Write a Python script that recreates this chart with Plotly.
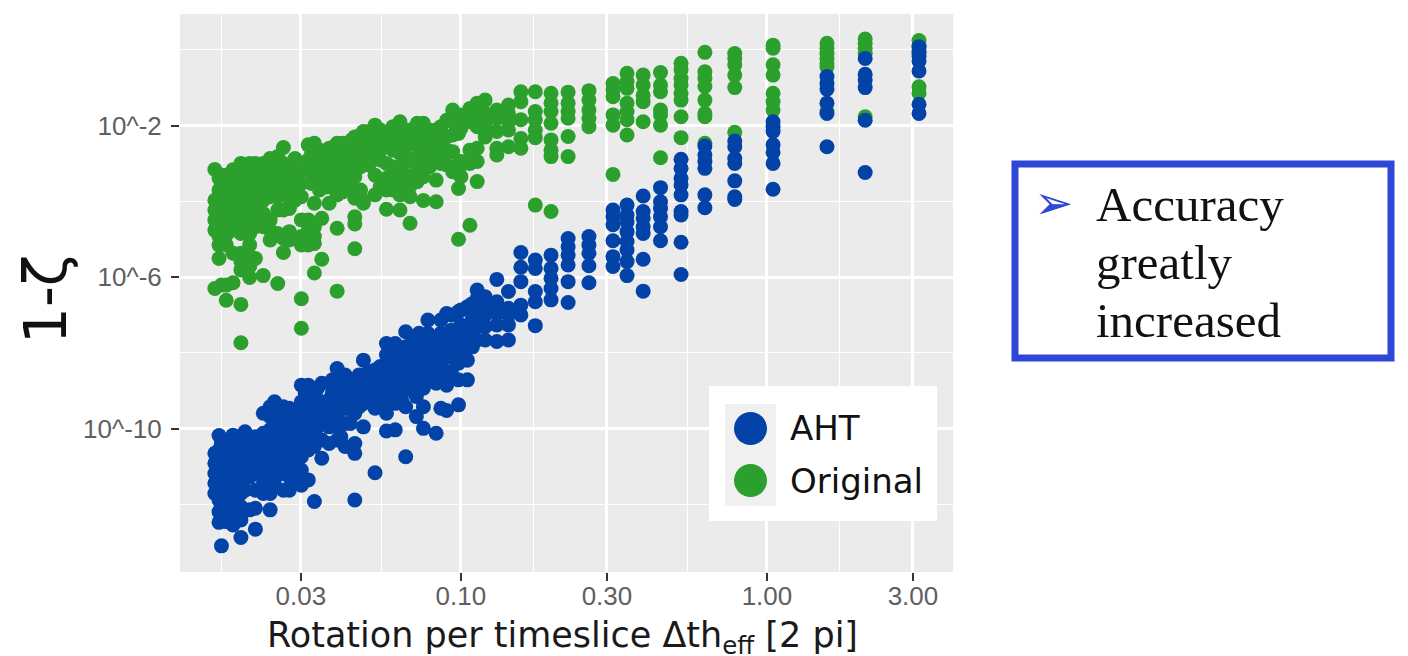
import plotly.graph_objects as go

# Rotation per timeslice (one entry per column of points)
original_x = [0.0157,0.0162,0.0165,0.0171,0.0180,0.0191,0.0204,0.0213,0.0226,0.0238,0.0252,0.0263,0.0275,0.0287,
              0.0301,0.0317,0.0332,0.0351,0.0371,0.0394,0.0418,0.0450,0.0480,0.0524,0.0571,0.0632,0.0682,0.0754,
              0.0830,0.0898,0.0940,0.0982,0.1000,0.1070,0.1130,0.1200,0.1310,0.1430,0.157,0.175,0.197,0.224,0.262,
              0.314,0.349,0.394,0.449,0.524,0.627,0.785,1.047,1.571,2.094,3.14,
              0.0325,0.0345,0.0365,0.0385,0.0410,0.0440,0.0470,0.0500,0.0545,0.0600,0.0650,0.0720,0.0790,0.0860]
# log10(1-zeta) values per column
original_exp = [
 [-3.16,-3.97,-4.23,-4.49,-4.76,-6.30],
 [-3.39,-3.70,-4.01,-4.32,-4.63,-4.93,-5.15,-5.51],
 [-3.31,-3.61,-3.92,-4.23,-4.54,-4.85,-6.21],
 [-3.31,-3.57,-3.83,-4.10,-4.36,-4.63,-4.89,-5.15,-6.21,-6.61],
 [-3.17,-3.44,-3.70,-3.97,-4.23,-4.49,-4.76,-5.37,-6.15],
 [-3.00,-3.26,-3.53,-3.79,-4.05,-4.32,-4.58,-4.85,-5.37,-5.59,-5.81,-6.72,-7.73],
 [-3.00,-3.17,-3.44,-3.70,-3.97,-4.23,-4.49,-4.85,-5.15,-5.46,-5.72,-6.01],
 [-3.00,-3.26,-3.53,-3.79,-4.05,-4.41,-4.67,-5.51],
 [-3.00,-3.17,-3.44,-3.70,-3.97,-4.32,-4.67,-5.96],
 [-2.87,-3.09,-3.35,-3.61,-3.88,-4.49,-4.76,-5.02],
 [-2.82,-3.09,-3.35,-3.61,-3.88,-4.23,-4.85,-6.17],
 [-2.58,-3.00,-3.26,-3.53,-3.79,-4.23,-4.98,-5.35],
 [-3.09,-3.35,-3.61,-3.92,-4.19,-4.80,-5.02],
 [-2.87,-3.17,-3.44,-3.70,-3.97],
 [-3.17,-3.53,-3.88,-4.49,-4.93,-5.15,-6.57,-7.35],
 [-2.51,-2.91,-3.17,-4.49,-4.76,-5.02,-5.15],
 [-2.47,-2.73,-3.00,-4.05,-4.67,-4.93,-5.11,-5.89],
 [-2.73,-3.00,-3.53,-4.45,-5.53],
 [-2.60,-2.91,-3.26,-4.05],
 [-2.47,-2.73,-3.04,-3.35,-3.61,-3.83,-4.71,-6.37],
 [-2.51,-2.82,-3.17,-3.48],
 [-2.30,-2.65,-3.00,-3.35,-3.70,-3.92,-4.41,-4.60,-5.25],
 [-2.16,-2.47,-2.82,-3.97,-4.05],
 [-1.99,-2.38,-2.73,-3.31,-3.83],
 [-2.21,-2.56,-3.00,-3.39,-3.70,-4.21],
 [-1.90,-2.30,-2.73,-3.17,-3.53,-3.83,-4.23],
 [-2.12,-2.47,-2.91,-3.35,-3.61,-3.88,-4.58],
 [-1.94,-2.38,-2.73,-3.00,-3.35,-3.98],
 [-2.12,-2.47,-2.82,-3.44,-4.01],
 [-1.86,-2.30,-2.65,-3.04],
 [-1.59,-1.90,-2.25,-2.69,-3.22],
 [-2.21,-3.00,-3.17,-3.66,-5.00],
 [-1.72,-2.07,-2.95,-3.35],
 [-1.55,-1.90,-2.65,-3.00,-4.63],
 [-1.41,-1.72,-2.03,-2.60,-2.95,-3.48],
 [-1.33,-1.68,-1.99,-2.30],
 [-1.59,-1.81,-2.16,-2.60,-2.78],
 [-1.46,-1.68,-1.90,-2.12,-2.56],
 [-1.11,-1.37,-1.85,-2.34,-2.60],
 [-1.11,-1.63,-1.85,-2.12,-2.32,-4.10],
 [-1.15,-1.41,-1.63,-1.94,-2.38,-2.65,-2.82,-4.27],
 [-1.12,-1.41,-1.63,-1.81,-2.29,-2.82],
 [-1.08,-1.33,-1.59,-1.81,-2.03],
 [-0.89,-1.06,-1.24,-1.72,-1.99,-3.29],
 [-0.62,-0.84,-1.02,-1.41,-1.63,-1.85,-2.25],
 [-0.67,-0.93,-1.20,-1.37,-1.90],
 [-0.60,-0.93,-1.11,-1.59,-1.72,-1.99,-2.85],
 [-0.36,-0.53,-0.76,-0.93,-1.15,-1.33,-1.77,-2.32],
 [-0.07,-0.58,-0.76,-0.97,-1.33,-1.68,-1.77,-2.47],
 [-0.10,-0.23,-0.40,-0.67,-1.00,-2.18],
 [0.12,0.04,-0.40,-0.67,-1.15,-1.37,-1.59],
 [0.17,0.04,-0.10,-0.23,-0.36,-0.45,-1.63],
 [0.28,0.17,0.04,-0.10,-1.77],
 [0.24,0.08,-0.10,-0.98,-1.15],
 [-2.73,-3.00,-3.26,-3.53],
 [-2.65,-2.91,-3.17,-3.44,-3.70],
 [-2.65,-2.82,-3.09,-3.35,-3.62],
 [-2.56,-2.82,-3.09,-3.44],
 [-2.47,-2.73,-3.00,-3.26,-3.53,-3.75],
 [-2.38,-2.56,-2.82,-3.00,-3.17,-3.66],
 [-2.25,-2.47,-2.65,-2.91,-3.09,-3.70],
 [-2.16,-2.38,-2.60,-2.82,-3.04],
 [-2.12,-2.30,-2.47,-2.65,-2.91,-3.61],
 [-2.03,-2.21,-2.47,-2.65,-3.09,-3.44,-3.70],
 [-2.12,-2.47,-2.65,-3.00,-3.26,-3.61],
 [-1.94,-2.21,-2.56,-2.82,-3.17,-3.48],
 [-2.12,-2.38,-2.73,-2.91,-3.09],
 [-2.03,-2.47,-2.60,-2.82,-3.00],
]

aht_x = [0.0157,0.0162,0.0165,0.0171,0.0180,0.0191,0.0197,0.0204,0.0213,0.0226,0.0238,0.0246,0.0263,0.0275,0.0287,
         0.0301,0.0317,0.0332,0.0351,0.0371,0.0394,0.0418,0.0450,0.0480,0.0524,0.0571,0.0610,0.0660,0.0715,0.0754,
         0.0780,0.0830,0.0898,0.0982,0.1050,0.1130,0.1200,0.1310,0.1430,0.157,0.175,0.197,0.224,0.262,
         0.314,0.349,0.394,0.449,0.524,0.627,0.785,1.047,1.571,2.094,3.14,
         0.0310,0.0340,0.0380,0.0405,0.0435,0.0465,0.0500,0.0545,0.0590,0.0640,0.0690,0.0730,
         0.0810,0.0860,0.0930,0.1000,0.1090]
aht_exp = [
 [-10.65,-10.91,-11.18,-11.44,-11.71],
 [-10.18,-10.56,-10.83,-11.09,-11.35,-11.62,-11.88,-12.19,-12.47],
 [-10.39,-10.74,-11.00,-11.27,-11.53,-11.79,-12.06,-13.09],
 [-10.47,-10.83,-11.09,-11.35,-11.62,-11.88,-12.23,-12.45],
 [-10.17,-10.47,-10.74,-11.00,-11.27,-11.53,-11.88,-12.23,-12.54],
 [-10.30,-10.56,-10.83,-11.09,-11.35,-11.71,-12.06,-12.41,-12.87],
 [-10.08,-10.39,-10.74,-11.09,-11.62],
 [-10.30,-10.56,-10.91,-11.27,-12.14],
 [-10.21,-10.47,-10.83,-11.18,-11.62,-12.10,-12.65],
 [-9.59,-10.12,-10.39,-10.74,-11.09,-11.44,-11.71],
 [-9.42,-9.68,-10.03,-10.39,-10.74,-11.09,-11.53,-11.71,-12.14],
 [-9.29,-9.64,-9.95,-10.30,-10.65,-11.00,-11.35],
 [-9.42,-9.77,-10.12,-10.47,-10.83,-11.18,-11.62],
 [-9.46,-9.86,-10.21,-10.56,-10.91,-11.27,-11.62],
 [-9.59,-9.95,-10.30,-10.65,-11.00,-11.27,-11.44],
 [-8.85,-9.29,-9.68,-10.03,-10.39,-10.74,-11.09,-11.49],
 [-8.85,-9.33,-9.68,-10.12,-10.56,-11.35],
 [-9.15,-9.68,-10.12,-10.47,-11.92],
 [-8.80,-9.33,-9.86,-10.30,-10.78],
 [-8.80,-9.24,-9.59,-9.95,-10.39],
 [-8.41,-8.89,-9.24,-9.59,-9.95,-10.30],
 [-8.58,-8.98,-9.33,-9.86,-10.47],
 [-8.71,-9.07,-9.42,-9.59,-10.39,-10.65,-11.88],
 [-8.19,-8.63,-8.98,-9.33,-9.95],
 [-8.45,-8.80,-9.15,-9.46,-11.16],
 [-7.75,-8.05,-8.45,-8.80,-9.24,-9.59,-10.06],
 [-7.75,-8.10,-8.49,-8.89,-9.33,-10.03],
 [-7.44,-7.84,-8.19,-8.54,-8.89,-9.42,-10.74],
 [-7.57,-7.92,-8.36,-8.71,-9.15,-9.68],
 [-7.75,-8.10,-8.49,-8.93,-9.42,-9.99],
 [-7.13,-7.48,-7.92,-8.27,-8.63],
 [-7.75,-8.10,-8.49,-8.80,-10.12],
 [-6.96,-7.57,-8.10,-8.49,-8.85,-9.52],
 [-6.91,-7.40,-7.92,-8.27,-8.71,-9.37],
 [-6.78,-7.40,-7.84,-8.19,-8.71],
 [-6.34,-6.56,-6.78,-7.00,-7.31,-7.66],
 [-6.52,-6.74,-7.00,-7.31,-7.66],
 [-6.06,-6.65,-6.96,-7.26,-7.70],
 [-6.38,-6.82,-7.00,-7.26,-7.66],
 [-5.35,-5.74,-6.12,-6.74,-7.00],
 [-5.55,-5.77,-6.38,-6.65,-7.28],
 [-5.42,-5.77,-6.03,-6.30,-6.60],
 [-4.98,-5.20,-5.42,-5.68,-6.12,-6.67],
 [-4.93,-5.15,-5.37,-5.70,-6.15],
 [-4.23,-4.41,-4.62,-5.04,-5.46,-5.72],
 [-4.10,-4.36,-4.54,-4.80,-5.06,-5.28,-5.59,-5.96],
 [-3.86,-4.27,-4.45,-4.67,-4.85,-5.53,-6.37],
 [-3.64,-4.01,-4.19,-4.41,-4.67,-5.04],
 [-2.89,-3.13,-3.39,-3.57,-3.83,-4.27,-4.36,-5.08,-5.93],
 [-2.54,-2.78,-2.95,-3.13,-3.83,-4.17],
 [-2.41,-2.56,-2.87,-3.00,-3.46,-3.88,-3.95],
 [-1.90,-2.03,-2.16,-2.51,-2.71,-3.00,-3.68],
 [-0.71,-0.89,-1.04,-1.41,-1.68,-2.56],
 [-0.23,-0.65,-0.80,-1.00,-1.86,-3.24],
 [0.08,-0.05,-0.18,-0.30,-0.56,-1.44,-1.68],
 [-9.07,-9.46,-9.86,-10.21,-10.56],
 [-8.93,-9.24,-9.59,-9.95,-10.30],
 [-8.71,-9.07,-9.42,-9.77],
 [-8.63,-8.98,-9.24,-9.50,-9.86,-10.21],
 [-8.75,-9.15,-9.50,-9.86],
 [-8.58,-8.89,-9.24,-9.42],
 [-8.49,-8.71,-8.98,-9.24],
 [-8.36,-8.63,-8.98,-9.24],
 [-8.10,-8.36,-8.63,-8.98,-9.24],
 [-7.92,-8.27,-8.63,-8.98,-9.24],
 [-7.75,-8.05,-8.36,-8.71,-8.98],
 [-7.48,-7.92,-8.19,-8.54],
 [-7.66,-8.00,-8.36,-8.63],
 [-7.13,-7.48,-7.84,-8.19,-8.54,-9.46],
 [-7.00,-7.40,-7.75,-8.10,-8.49],
 [-6.87,-7.26,-7.66,-8.05],
 [-6.70,-7.10,-7.48,-7.84],
]

x_tick_values = [0.03, 0.1, 0.3, 1, 3]
x_tick_labels = ["0.03", "0.10", "0.30", "1.00", "3.00"]
x_minor_values = [0.01656, 0.0552, 0.173, 0.548, 1.73]
y_tick_values = [1e-2, 1e-6, 1e-10]
y_tick_labels = ["10^-2", "10^-6", "10^-10"]
y_minor_values = [1, 1e-4, 1e-8, 1e-12]
series_names = ["AHT", "Original"]
box_lines = ["Accuracy", "greatly", "increased"]

BLUE = "#0343a8"
GREEN = "#2ca02c"
W, H = 1408, 656
L, R, T, B = 180, 953, 14, 572


def flatten(xs, nested):
    px, py = [], []
    for x, col in zip(xs, nested):
        for e in col:
            px.append(x)
            py.append(10 ** e)
    return px, py


fig = go.Figure()
for name, xs, nested, color in [("Original", original_x, original_exp, GREEN),
                                ("AHT", aht_x, aht_exp, BLUE)]:
    px, py = flatten(xs, nested)
    fig.add_trace(go.Scatter(x=px, y=py, mode="markers", name=name, showlegend=False,
                             marker=dict(size=15, color=color, line=dict(width=0))))

tick_font = dict(family="Liberation Sans, Arial, sans-serif", size=26, color="#5f5f5f")
fig.update_xaxes(type="log", range=[-1.918, 0.608], tickmode="array", tickvals=x_tick_values,
                 ticktext=x_tick_labels, tickfont=tick_font, ticks="outside", ticklen=8, tickwidth=2,
                 tickcolor="#333333", showgrid=True, gridcolor="white", gridwidth=2.5, zeroline=False,
                 showline=False, ticklabelstandoff=-7,
                 minor=dict(tickmode="array", tickvals=x_minor_values, showgrid=True,
                            gridcolor="white", gridwidth=1.3, ticks=""))
fig.update_yaxes(type="log", range=[-13.78, 0.942], tickmode="array", tickvals=y_tick_values,
                 ticktext=y_tick_labels, tickfont=tick_font, ticks="outside", ticklen=8, tickwidth=2,
                 tickcolor="#333333", showgrid=True, gridcolor="white", gridwidth=2.5, zeroline=False,
                 ticklabelstandoff=4,
                 showline=False, minor=dict(tickmode="array", tickvals=y_minor_values, showgrid=True,
                                            gridcolor="white", gridwidth=1.3, ticks=""))


def X(p):
    return (p - L) / (R - L)


def Y(p):
    return 1 - (p - T) / (B - T)


shapes = [
    dict(type="rect", x0=X(709), x1=X(937), y0=Y(386), y1=Y(521), fillcolor="white", line_width=0),
    dict(type="rect", x0=X(725), x1=X(776), y0=Y(404), y1=Y(506), fillcolor="#f0f0f0", line_width=0),
    dict(type="circle", x0=X(734), x1=X(767), y0=Y(412), y1=Y(445), fillcolor=BLUE, line_width=0),
    dict(type="circle", x0=X(734), x1=X(767), y0=Y(464), y1=Y(497), fillcolor=GREEN, line_width=0),
    dict(type="rect", x0=X(1015), x1=X(1391), y0=Y(164), y1=Y(358), fillcolor="white",
         line=dict(color="#2e47d6", width=7)),
]
shapes = [dict(s, xref="paper", yref="paper") for s in shapes]

notes = [
    dict(text=series_names[0], x=X(788), y=Y(428), xanchor="left", yanchor="middle",
         font=dict(family="DejaVu Sans", size=34, color="#111111")),
    dict(text=series_names[1], x=X(788), y=Y(481), xanchor="left", yanchor="middle",
         font=dict(family="DejaVu Sans", size=34, color="#111111")),
    dict(text="1-ζ", x=X(46), y=Y(300), textangle=-90, xanchor="center", yanchor="middle",
         font=dict(family="DejaVu Sans", size=58, color="#111111")),
    dict(text="Rotation per timeslice Δth<sub>eff</sub> [2 pi]", x=X(562), y=Y(637),
         xanchor="center", yanchor="middle",
         font=dict(family="DejaVu Sans", size=35, color="#1a1a1a")),
    dict(text="➢", x=X(1053), y=Y(202), xanchor="center", yanchor="middle",
         font=dict(family="DejaVu Sans", size=47, color="#2e47d6")),
]
for line, yy in zip(box_lines, [204, 262, 320]):
    notes.append(dict(text=line, x=X(1094), y=Y(yy), xanchor="left", yanchor="middle",
                      font=dict(family="Liberation Serif", size=49, color="#111111")))
for n in notes:
    n.update(xref="paper", yref="paper", showarrow=False)

fig.update_layout(width=W, height=H, paper_bgcolor="white", plot_bgcolor="#ebebeb",
                  margin=dict(l=L, r=W - R, t=T, b=H - B, autoexpand=False),
                  shapes=shapes, annotations=notes, showlegend=False)

fig.write_html("out.html", config=dict(displayModeBar=False),
               post_script="document.body.style.margin='0';")
